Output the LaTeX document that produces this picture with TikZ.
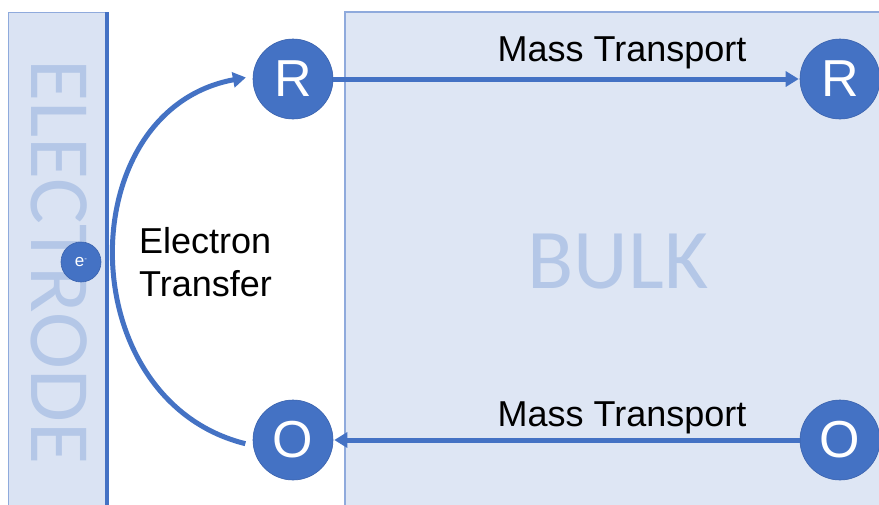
\documentclass[tikz,border=0pt]{standalone}
\usepackage{fontspec}
\setmainfont{Liberation Sans}
\newfontfamily\calib{Carlito}
\usepackage{xcolor}
\usepackage{tikz}
\usetikzlibrary{arrows.meta}
\definecolor{ofblue}{HTML}{4472C4}
\definecolor{ofedge}{HTML}{3A62AD}
\definecolor{paleblue}{HTML}{DAE3F3}
\definecolor{rimblue}{HTML}{8FAADC}
\definecolor{markblue}{HTML}{B4C7E7}
\tikzset{mol/.style={circle,fill=ofblue,draw=ofedge,line width=0.6pt,minimum size=80pt,inner sep=0pt,text=white,font=\fontsize{52}{52}\selectfont},
         elec/.style={circle,fill=ofblue,draw=ofedge,line width=0.6pt,minimum size=40pt,inner sep=0pt,text=white,font=\fontsize{17}{17}\selectfont},
         flow/.style={->,draw=ofblue,line width=5pt},
         lbl/.style={font=\fontsize{36}{43}\selectfont,inner sep=0pt}}

\begin{document}
\begin{tikzpicture}[x=1pt,y=-1pt,>={Triangle[length=13pt,width=15pt]}]
    \useasboundingbox (0,0) rectangle (879,504);
    \fill[white] (0,0) rectangle (879,504);

    % electrode and bulk regions
    \draw[fill=paleblue,draw=rimblue,line width=0.8pt] (8,12) rectangle (107,510);
    \draw[ofblue,line width=4pt] (107,12) -- (107,510);
    \draw[fill=paleblue!90!white,draw=rimblue,line width=1.2pt] (345,12) rectangle (890,510);
    \node[rotate=-90,text=markblue,inner sep=0pt,font=\calib\fontsize{86}{86}\selectfont] (eltxt) at (59,262) {ELECTRODE};
    \node[text=markblue,inner sep=0pt,font=\calib\fontsize{85}{85}\selectfont] (bulk) at (618,262) {BULK};

    \node[elec] (em) at (81,262) {e\raisebox{0.6ex}{\fontsize{8}{8}\selectfont -}};
    \node[mol] (rel) at (293,79) {R};
    \node[mol] (rbk) at (840,79) {R};
    \node[mol] (oel) at (293,440) {O};
    \node[mol] (obk) at (840,440) {O};

    \draw[flow,shorten >=1pt] (rel) -- (rbk);
    \draw[flow,shorten >=1pt] (obk) -- (oel);
    \node[lbl] (mtr) at (622,53) {Mass Transport};
    \node[lbl] (mto) at (622,418) {Mass Transport};
    \draw[flow,shorten <=8pt,shorten >=7pt] (oel.188) .. controls (70,400) and (70,110) .. (rel.176);
    \node[lbl,align=left,anchor=west] (et) at (139,262) {Electron\\Transfer};
\end{tikzpicture}
\end{document}
